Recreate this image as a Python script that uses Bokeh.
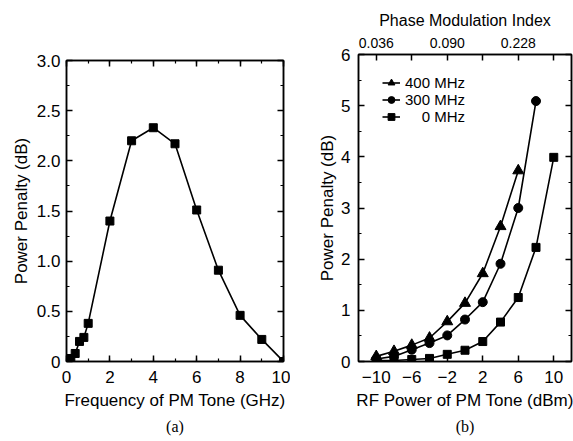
from bokeh.plotting import figure
from bokeh.layouts import row
from bokeh.models import (LinearAxis, SingleIntervalTicker, FixedTicker, Title,
                          Legend, LegendItem, CustomLabelingPolicy)
from bokeh.embed import file_html
from bokeh.resources import INLINE

# ---- data (a) ----
freq_ghz = [0.2, 0.4, 0.6, 0.8, 1.0, 2, 3, 4, 5, 6, 7, 8, 9, 10]
penalty_a = [0.03, 0.08, 0.20, 0.24, 0.38, 1.40, 2.20, 2.33, 2.17, 1.51, 0.91, 0.46, 0.22, 0.0]

# ---- data (b) ----
rf_400 = [-10, -8, -6, -4, -2, 0, 2, 4, 6]
pen_400 = [0.10, 0.20, 0.32, 0.46, 0.78, 1.14, 1.72, 2.64, 3.73]
rf_300 = [-10, -8, -6, -4, -2, 0, 2, 4, 6, 8]
pen_300 = [0.05, 0.10, 0.23, 0.36, 0.51, 0.82, 1.16, 1.91, 3.00, 5.09]
rf_0 = [-10, -8, -6, -4, -2, 0, 2, 4, 6, 8, 10]
pen_0 = [0.02, 0.02, 0.04, 0.06, 0.14, 0.22, 0.39, 0.77, 1.25, 2.23, 3.99]
legend_labels = ["400 MHz", "300 MHz", "\u2007\u20070 MHz"]

bottom_ticks_b = [-10, -6, -2, 2, 6, 10]
top_tick_pos = [-10, -6, -2, 2, 6, 10]
top_tick_labels = {-10: "0.036", -6: "", -2: "0.090", 2: "", 6: "0.228", 10: ""}

FONT = "Liberation Sans"

NO_LABELS = CustomLabelingPolicy(code="return new Set()")
EVEN_LABELS = CustomLabelingPolicy(code="""
const out = new Set()
for (const i of indices) { if (i % 2 == 0) out.add(i) }
return out
""")


def style_axis(ax, labels=True, size="17px"):
    ax.axis_line_color = "black"
    ax.axis_line_width = 1.5
    ax.major_tick_in = 6
    ax.major_tick_out = 0
    ax.minor_tick_in = 3
    ax.minor_tick_out = 0
    ax.major_tick_line_width = 1.5
    ax.minor_tick_line_width = 1.2
    ax.major_label_text_font = FONT
    ax.major_label_text_color = "black"
    ax.axis_label_text_font = FONT
    ax.axis_label_text_font_style = "normal"
    ax.axis_label_text_font_size = "17px"
    ax.axis_label_text_color = "black"
    if labels:
        ax.major_label_text_font_size = size
        ax.major_label_standoff = 6
    else:
        ax.major_label_text_font_size = "0px"
        ax.major_label_standoff = 0
        ax.major_label_policy = NO_LABELS


def caption(text):
    return Title(text=text, align="center", text_font="Liberation Serif",
                 text_font_size="16px", text_font_style="normal",
                 text_color="black", standoff=7)


# ================= (a) =================
p1 = figure(width=290, height=435, x_range=(0, 10), y_range=(0, 3),
            output_backend="svg", toolbar_location=None,
            min_border_left=66, min_border_right=7,
            min_border_top=54, min_border_bottom=80)
p1.margin = (6, 0, 0, 0)
p1.grid.visible = False
p1.outline_line_color = "black"
p1.outline_line_width = 1.5

p1.xaxis.ticker = SingleIntervalTicker(interval=2, num_minor_ticks=2)
p1.yaxis.ticker = SingleIntervalTicker(interval=0.5, num_minor_ticks=2)
p1.yaxis.major_label_overrides = {0: "0", 0.5: "0.5", 1: "1.0", 1.5: "1.5",
                                  2: "2.0", 2.5: "2.5", 3: "3.0"}
p1.xaxis.axis_label = "Frequency of PM Tone (GHz)"
p1.yaxis.axis_label = "Power Penalty (dB)"
for ax in p1.xaxis + p1.yaxis:
    style_axis(ax)
p1.xaxis.major_label_standoff = 9
p1.xaxis.axis_label_standoff = 5
p1.yaxis.axis_label_standoff = 3

ax_r1 = LinearAxis(ticker=SingleIntervalTicker(interval=0.5, num_minor_ticks=2))
ax_t1 = LinearAxis(ticker=SingleIntervalTicker(interval=2, num_minor_ticks=2))
style_axis(ax_r1, labels=False)
style_axis(ax_t1, labels=False)
p1.add_layout(ax_r1, "right")
p1.add_layout(ax_t1, "above")

p1.line(freq_ghz, penalty_a, line_color="black", line_width=1.6)
p1.scatter(freq_ghz, penalty_a, marker="square", size=8, fill_color="black",
           line_color="black")
p1.add_layout(caption("(a)"), "below")

# ================= (b) =================
p2 = figure(width=283, height=441, x_range=(-12, 12), y_range=(0, 6),
            output_backend="svg", toolbar_location=None,
            min_border_left=68, min_border_right=2,
            min_border_top=54, min_border_bottom=80)
p2.grid.visible = False
p2.outline_line_color = "black"
p2.outline_line_width = 1.5

p2.xaxis.ticker = FixedTicker(ticks=bottom_ticks_b)
p2.yaxis.ticker = SingleIntervalTicker(interval=1, num_minor_ticks=2)
p2.xaxis.axis_label = "RF Power of PM Tone (dBm)"
p2.yaxis.axis_label = "Power Penalty (dB)"
for ax in p2.xaxis + p2.yaxis:
    style_axis(ax)
p2.xaxis.major_label_standoff = 9
p2.xaxis.axis_label_standoff = 5
p2.yaxis.axis_label_standoff = 1
p2.yaxis.major_label_standoff = 8

ax_r2 = LinearAxis(ticker=SingleIntervalTicker(interval=1, num_minor_ticks=2))
style_axis(ax_r2, labels=False)
p2.add_layout(ax_r2, "right")

ax_t2 = LinearAxis(ticker=FixedTicker(ticks=top_tick_pos),
                   axis_label="Phase Modulation Index")
style_axis(ax_t2, labels=True, size="14px")
ax_t2.axis_label_text_font_size = "16px"
ax_t2.major_label_overrides = top_tick_labels
ax_t2.major_label_policy = EVEN_LABELS
ax_t2.major_label_standoff = 7
ax_t2.axis_label_standoff = 6
p2.add_layout(ax_t2, "above")

l400 = p2.line(rf_400, pen_400, line_color="black", line_width=1.6)
s400 = p2.scatter(rf_400, pen_400, marker="triangle", size=11, fill_color="black",
                  line_color="black")
l300 = p2.line(rf_300, pen_300, line_color="black", line_width=1.6)
s300 = p2.scatter(rf_300, pen_300, marker="circle", size=9, fill_color="black",
                  line_color="black")
l0 = p2.line(rf_0, pen_0, line_color="black", line_width=1.6)
s0 = p2.scatter(rf_0, pen_0, marker="square", size=8, fill_color="black",
                line_color="black")

legend = Legend(items=[
    LegendItem(label=legend_labels[0], renderers=[l400, s400]),
    LegendItem(label=legend_labels[1], renderers=[l300, s300]),
    LegendItem(label=legend_labels[2], renderers=[l0, s0]),
], location=(24, 236))
legend.border_line_color = None
legend.background_fill_alpha = 0
legend.margin = 0
legend.padding = 0
legend.spacing = 0
legend.label_height = 17
legend.glyph_height = 17
legend.glyph_width = 18
legend.label_standoff = 5
legend.label_text_font = FONT
legend.label_text_font_size = "15px"
legend.label_text_color = "black"
p2.add_layout(legend, "center")
p2.add_layout(caption("(b)"), "below")

layout = row(p1, p2)
open("out.html", "w").write(file_html(layout, INLINE))
